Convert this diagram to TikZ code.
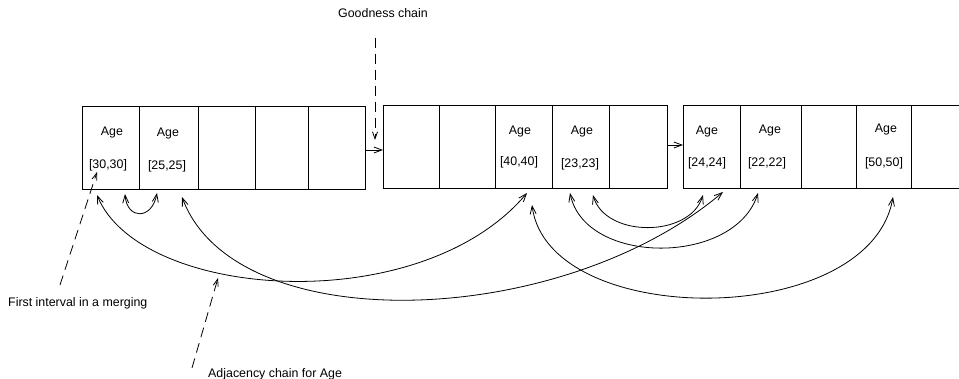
\documentclass[tikz,border=0pt]{standalone}
\usepackage{fontspec}
\setmainfont{Liberation Sans}
\usetikzlibrary{arrows.meta}
\begin{document}
\begin{tikzpicture}[x=1pt,y=-1pt,
  every node/.style={font=\fontsize{12.4}{14}\selectfont, inner sep=0pt},
  cell/.style={draw, line width=0.8pt, anchor=north west, minimum height=83pt},
  link/.style={line width=0.8pt, {Straight Barb[length=8pt,width=6pt]}-{Straight Barb[length=8pt,width=6pt]}},
  ptr/.style={line width=0.8pt, -{Straight Barb[length=8pt,width=6pt]}},
  note/.style={line width=0.8pt, dash pattern=on 10pt off 6pt, -{Straight Barb[length=7pt,width=5pt]}}]
\useasboundingbox (0,0) rectangle (959,379);
% block 1
\node[cell, minimum width=57pt] (b1c1) at (82,106) {};
\node[cell, minimum width=59pt] (b1c2) at (139,106) {};
\node[cell, minimum width=57pt] (b1c3) at (198,106) {};
\node[cell, minimum width=53pt] (b1c4) at (255,106) {};
\node[cell, minimum width=57pt] (b1c5) at (308,106) {};
% block 2
\node[cell, minimum width=56pt] (b2c1) at (383,105) {};
\node[cell, minimum width=56pt] (b2c2) at (439,105) {};
\node[cell, minimum width=57pt] (b2c3) at (495,105) {};
\node[cell, minimum width=57pt] (b2c4) at (552,105) {};
\node[cell, minimum width=58pt] (b2c5) at (609,105) {};
% block 3
\node[cell, minimum width=57pt] (b3c1) at (683,105) {};
\node[cell, minimum width=61pt] (b3c2) at (740,105) {};
\node[cell, minimum width=55pt] (b3c3) at (801,105) {};
\node[cell, minimum width=55pt] (b3c4) at (856,105) {};
\node[cell, minimum width=70pt] (b3c5) at (911,105) {};
% texts
\node (t1a) at (112,133) {Age};  \node (t1b) at (108,165) {[30,30]};
\node (t2a) at (168,134) {Age};  \node (t2b) at (167,166) {[25,25]};
\node (t3a) at (520,132) {Age};  \node (t3b) at (519,162) {[40,40]};
\node (t4a) at (582,132) {Age};  \node (t4b) at (580,164) {[23,23]};
\node (t5a) at (707,132) {Age};  \node (t5b) at (707,163) {[24,24]};
\node (t6a) at (770,131) {Age};  \node (t6b) at (767,163) {[22,22]};
\node (t7a) at (886,130) {Age};  \node (t7b) at (884,163) {[50,50]};
% labels
\node (good) at (383,13) {Goodness chain};
\node[anchor=west] (first) at (8,303) {First interval in a merging};
\node[anchor=west] (adj) at (208,374) {Adjacency chain for Age};
% chain arrows between blocks
\coordinate (g1) at (365,150); \coordinate (g2) at (383,150);
\coordinate (h1) at (667,145); \coordinate (h2) at (683,145);
\draw[ptr] (g1) -- (g2);
\draw[ptr] (h1) -- (h2);
% dashed annotation arrows
\coordinate (gs) at (375,38); \coordinate (ge) at (375,140);
\draw[note] (gs) -- (ge);
\coordinate (fs) at (60,285); \coordinate (fe) at (97,172);
\draw[note] (fs) -- (fe);
\coordinate (as) at (192,368); \coordinate (ae) at (218,278);
\draw[note] (as) -- (ae);
% adjacency links
\coordinate (p30a) at (97,195);
\coordinate (p25a) at (125,194);
\coordinate (p25b) at (157,193);
\coordinate (p25c) at (182,197);
\coordinate (p40a) at (527,193);
\coordinate (p40b) at (532,205);
\coordinate (p23a) at (570,193);
\coordinate (p23b) at (593,195);
\coordinate (p24a) at (703,195);
\coordinate (p24b) at (723,192);
\coordinate (p22a) at (758,193);
\coordinate (p50a) at (893,197);
\draw[link] (p25a) .. controls (127,220) and (152,220) .. (p25b);
\draw[link] (p30a) .. controls (140,300) and (420,320) .. (p40a);
\draw[link] (p25c) .. controls (235,340) and (560,330) .. (p24b);
\draw[link] (p40b) .. controls (548,330) and (870,330) .. (p50a);
\draw[link] (p23a) .. controls (585,266) and (735,266) .. (p22a);
\draw[link] (p23b) .. controls (605,238) and (690,238) .. (p24a);
\end{tikzpicture}
\end{document}
